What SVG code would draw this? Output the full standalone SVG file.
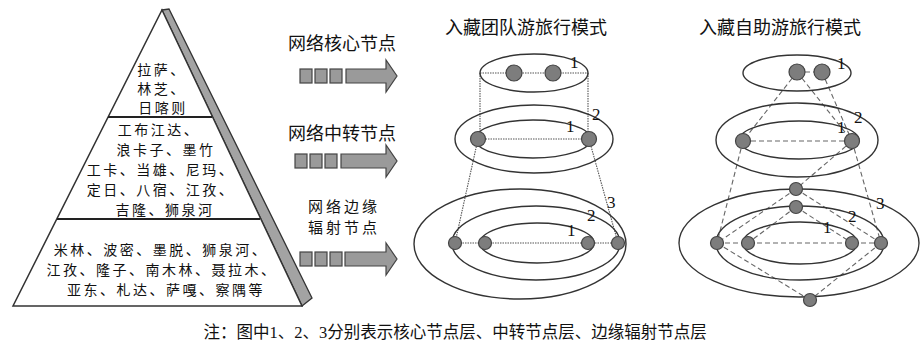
<svg xmlns="http://www.w3.org/2000/svg" width="920" height="344" viewBox="0 0 920 344">
<style>
.t{font-family:"Noto Sans CJK SC","Noto Sans CJK JP",sans-serif;fill:#111}
.pt{font-size:14px;letter-spacing:2.5px;text-anchor:middle}
.ht{font-size:18px;text-anchor:middle}
.ht2{font-size:15px;letter-spacing:3px;text-anchor:middle}
.num{font-family:"Liberation Serif",serif;font-size:17px;fill:#111}
.el{fill:none;stroke:#333;stroke-width:1.4}
.nd{fill:#7d7d7d;stroke:#444;stroke-width:1.2}
.dot{stroke:#555;stroke-width:1.1;stroke-dasharray:1.5 1;fill:none}
.dash{stroke:#666;stroke-width:1.1;stroke-dasharray:5 3;fill:none}
.box{fill:#9a9a9a;stroke:#444;stroke-width:1.2}
</style>
<rect width="920" height="344" fill="#fff"/>

<g id="pyramid">
  <polygon points="162,10 169,9 312,298 302,306" fill="#a3a3a3" stroke="#333" stroke-width="1.3"/>
  <polygon points="162,10 302,306 13,306" fill="#fff" stroke="#333" stroke-width="1.5"/>
  <line x1="108" y1="117" x2="212" y2="117" stroke="#222" stroke-width="2"/>
  <line x1="57" y1="219" x2="260" y2="219" stroke="#222" stroke-width="2"/>
  <text class="t pt"><tspan x="162" y="75">拉萨、</tspan><tspan x="162" y="94">林芝、</tspan><tspan x="163" y="113">日喀则</tspan></text>
  <text class="t pt"><tspan x="159" y="135">工布江达、</tspan><tspan x="166" y="155">浪卡子、墨竹</tspan><tspan x="161" y="175">工卡、当雄、尼玛、</tspan><tspan x="161" y="195">定日、八宿、江孜、</tspan><tspan x="165" y="215">吉隆、狮泉河</tspan></text>
  <text class="t pt"><tspan x="161" y="255">米林、波密、墨脱、狮泉河、</tspan><tspan x="162" y="275">江孜、隆子、南木林、聂拉木、</tspan><tspan x="166" y="295">亚东、札达、萨嘎、察隅等</tspan></text>
</g>

<g id="label-core">
  <text class="t ht" x="342" y="50">网络核心节点</text>
  <rect class="box" x="300" y="69" width="12" height="14"/>
  <rect class="box" x="315" y="69" width="12" height="14"/>
  <rect class="box" x="330" y="69" width="12" height="14"/>
  <polygon class="box" points="346,69 386,69 386,60 397,76 386,92 386,83 346,83"/>
</g>
<g id="label-transfer">
  <text class="t ht" x="342" y="140">网络中转节点</text>
  <rect class="box" x="295" y="154" width="12" height="14"/>
  <rect class="box" x="310" y="154" width="12" height="14"/>
  <rect class="box" x="325" y="154" width="12" height="14"/>
  <polygon class="box" points="341,154 386,154 386,145 397,161 386,177 386,168 341,168"/>
</g>
<g id="label-edge">
  <text class="t ht2"><tspan x="344" y="212">网络边缘</tspan><tspan x="344" y="233">辐射节点</tspan></text>
  <rect class="box" x="300" y="252" width="12" height="14"/>
  <rect class="box" x="315" y="252" width="12" height="14"/>
  <rect class="box" x="330" y="252" width="12" height="14"/>
  <polygon class="box" points="345,252 386,252 386,243 397,259 386,275 386,266 345,266"/>
</g>

<text class="t ht" x="526" y="34">入藏团队游旅行模式</text>
<text class="t ht" x="780" y="34">入藏自助游旅行模式</text>

<g id="connectors">
  <line class="dot" x1="480" y1="73" x2="588" y2="73"/>
  <line class="dot" x1="480" y1="73" x2="480" y2="139"/>
  <line class="dot" x1="588" y1="73" x2="588" y2="139"/>
  <line class="dot" x1="478" y1="139" x2="589" y2="139"/>
  <line class="dot" x1="478" y1="139" x2="455" y2="243"/>
  <line class="dot" x1="589" y1="139" x2="618" y2="243"/>
  <line class="dot" x1="455" y1="243" x2="618" y2="243"/>

  <line class="dash" x1="797" y1="72" x2="822" y2="72"/>
  <line class="dash" x1="797" y1="72" x2="743" y2="141"/>
  <line class="dash" x1="797" y1="72" x2="852" y2="141"/>
  <line class="dash" x1="822" y1="72" x2="852" y2="141"/>
  <line class="dash" x1="743" y1="141" x2="852" y2="141"/>
  <line class="dash" x1="743" y1="141" x2="717" y2="243"/>
  <line class="dash" x1="852" y1="141" x2="881" y2="243"/>
  <line class="dash" x1="852" y1="141" x2="796" y2="189"/>
  <line class="dash" x1="796" y1="189" x2="717" y2="243"/>
  <line class="dash" x1="796" y1="189" x2="881" y2="243"/>
  <line class="dash" x1="796" y1="207" x2="748" y2="243"/>
  <line class="dash" x1="796" y1="207" x2="852" y2="243"/>
  <line class="dash" x1="717" y1="243" x2="881" y2="243"/>
  <line class="dash" x1="717" y1="243" x2="810" y2="300"/>
  <line class="dash" x1="881" y1="243" x2="810" y2="300"/>
</g>

<g id="group-tour">
  <ellipse class="el" cx="534" cy="73" rx="54" ry="19"/>
  <ellipse class="el" cx="534" cy="139" rx="79" ry="34"/>
  <ellipse class="el" cx="533" cy="139" rx="58" ry="19"/>
  <ellipse class="el" cx="520" cy="244" rx="106" ry="55"/>
  <ellipse class="el" cx="536" cy="243" rx="84" ry="37"/>
  <ellipse class="el" cx="537" cy="243" rx="57" ry="20"/>
  <g id="gt-nodes">
    <circle class="nd" cx="514" cy="73" r="8"/>
    <circle class="nd" cx="553" cy="73" r="8"/>
    <circle class="nd" cx="478" cy="139" r="7.5"/>
    <circle class="nd" cx="589" cy="139" r="7.5"/>
    <circle class="nd" cx="455" cy="243" r="6.5"/>
    <circle class="nd" cx="485" cy="243" r="6.5"/>
    <circle class="nd" cx="588" cy="243" r="6.5"/>
    <circle class="nd" cx="618" cy="243" r="6.5"/>
  </g>
  <text class="num" x="570" y="68">1</text>
  <text class="num" x="566" y="132">1</text>
  <text class="num" x="592" y="120">2</text>
  <text class="num" x="567" y="236">1</text>
  <text class="num" x="587" y="221">2</text>
  <text class="num" x="607" y="208">3</text>
</g>

<g id="self-tour">
  <ellipse class="el" cx="797" cy="73" rx="54" ry="18"/>
  <ellipse class="el" cx="797" cy="140" rx="81" ry="37"/>
  <ellipse class="el" cx="799" cy="140" rx="60" ry="19"/>
  <ellipse class="el" cx="799" cy="243" rx="120" ry="54"/>
  <ellipse class="el" cx="800" cy="243" rx="84" ry="37"/>
  <ellipse class="el" cx="800" cy="243" rx="57" ry="21"/>
  <g id="st-nodes">
    <circle class="nd" cx="797" cy="72" r="8"/>
    <circle class="nd" cx="822" cy="72" r="8"/>
    <circle class="nd" cx="743" cy="141" r="7.5"/>
    <circle class="nd" cx="852" cy="141" r="7.5"/>
    <circle class="nd" cx="717" cy="243" r="6.5"/>
    <circle class="nd" cx="748" cy="243" r="6.5"/>
    <circle class="nd" cx="852" cy="243" r="6.5"/>
    <circle class="nd" cx="881" cy="243" r="6.5"/>
    <circle class="nd" cx="796" cy="189" r="6.5"/>
    <circle class="nd" cx="796" cy="207" r="6.5"/>
    <circle class="nd" cx="810" cy="300" r="6.5"/>
  </g>
  <text class="num" x="837" y="69">1</text>
  <text class="num" x="837" y="133">1</text>
  <text class="num" x="854" y="123">2</text>
  <text class="num" x="823" y="233">1</text>
  <text class="num" x="848" y="222">2</text>
  <text class="num" x="876" y="209">3</text>
</g>

<text class="t" x="455" y="338" font-size="16.5" text-anchor="middle">注：图中<tspan font-family="Liberation Serif">1</tspan>、<tspan font-family="Liberation Serif">2</tspan>、<tspan font-family="Liberation Serif">3</tspan>分别表示核心节点层、中转节点层、边缘辐射节点层</text>
</svg>
